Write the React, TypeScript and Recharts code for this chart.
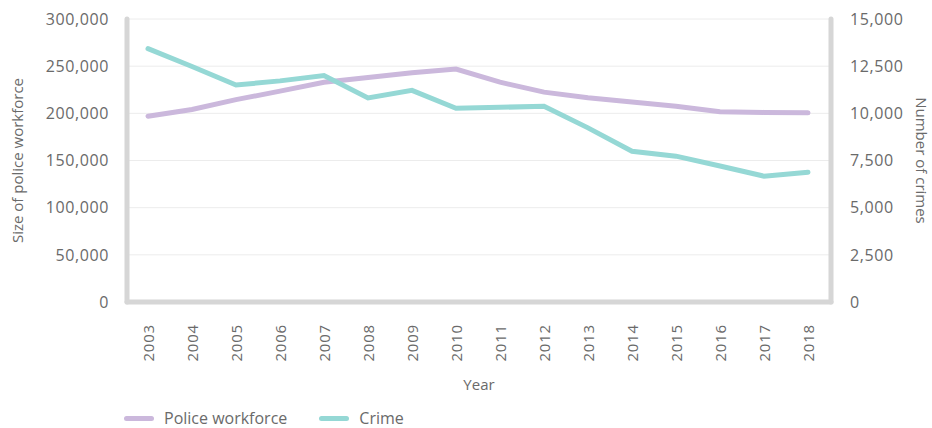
import { CartesianGrid, Legend, Line, LineChart, XAxis, YAxis } from 'recharts'

const years = [
    '2003', '2004', '2005', '2006', '2007', '2008', '2009', '2010',
    '2011', '2012', '2013', '2014', '2015', '2016', '2017', '2018',
]

// size of police workforce (left axis)
const policeWorkforce = [
    197000, 204000, 214500, 223500, 233000, 238000, 243000, 247000,
    233000, 222500, 216500, 212000, 207500, 201800, 201000, 200500,
]

// number of crimes (right axis)
const crime = [
    13430, 12480, 11500, 11720, 12000, 10820, 11220, 10270,
    10320, 10370, 9230, 7990, 7730, 7210, 6670, 6880,
]

const leftTicks = [0, 50000, 100000, 150000, 200000, 250000, 300000]
const rightTicks = [0, 2500, 5000, 7500, 10000, 12500, 15000]

const FONT = '"Open Sans", sans-serif'
const TEXT = '#6a6a6a'
const AXIS = '#d6d6d6'
const PURPLE = '#cbb8dc'
const TEAL = '#95d8d5'

const fmt = (v: number) => v.toLocaleString('en-US')

const chartData = years.map((year, i) => ({
    year,
    police: policeWorkforce[i],
    crime: crime[i],
}))

function YearTick({ x, y, payload }: any) {
    return (
        <text
            x={0}
            y={0}
            transform={`translate(${x + 6}, ${y + 14}) rotate(-90)`}
            textAnchor="end"
            fill={TEXT}
            fontSize={15}
            fontFamily={FONT}
            letterSpacing={0.8}
        >
            {payload.value}
        </text>
    )
}

function LegendContent() {
    const items = [
        { label: 'Police workforce', color: PURPLE },
        { label: 'Crime', color: TEAL },
    ]
    return (
        <div style={{ display: 'flex', alignItems: 'flex-end', height: 36, paddingLeft: 124 }}>
            {items.map(item => (
                <div key={item.label} style={{ display: 'flex', alignItems: 'center', height: 20, marginRight: 32 }}>
                    <span
                        style={{
                            display: 'inline-block',
                            width: 30,
                            height: 5,
                            borderRadius: 3,
                            background: item.color,
                            marginRight: 10,
                        }}
                    />
                    <span style={{ fontFamily: FONT, fontSize: 16, lineHeight: '20px', color: TEXT }}>{item.label}</span>
                </div>
            ))}
        </div>
    )
}

export default function App() {
    return (
        <div style={{ position: 'absolute', left: 0, top: 0, width: 932, height: 428, background: '#fff' }}>
            <LineChart
                width={932}
                height={428}
                data={chartData}
                margin={{ top: 19, right: 0, bottom: 0, left: 0 }}
            >
                <CartesianGrid vertical={false} stroke="#ececec" strokeWidth={1} yAxisId="left" />
                <XAxis
                    dataKey="year"
                    height={90}
                    padding={{ left: 21, right: 23 }}
                    interval={0}
                    stroke={AXIS}
                    strokeWidth={5}
                    strokeLinecap="round"
                    tickLine={false}
                    tick={<YearTick />}
                    label={{
                        value: 'Year',
                        position: 'insideBottom',
                        offset: 2,
                        fill: TEXT,
                        fontSize: 15,
                        fontFamily: FONT,
                    }}
                />
                <YAxis
                    yAxisId="left"
                    width={127}
                    domain={[0, 300000]}
                    ticks={leftTicks}
                    tickFormatter={fmt}
                    stroke={AXIS}
                    strokeWidth={5}
                    strokeLinecap="round"
                    tickLine={false}
                    tickMargin={12}
                    tick={{ fill: TEXT, fontSize: 16, fontFamily: FONT, letterSpacing: 0.6 }}
                    label={{
                        value: 'Size of police workforce',
                        angle: -90,
                        position: 'insideLeft',
                        offset: 18,
                        style: { textAnchor: 'middle' },
                        fill: TEXT,
                        fontSize: 15,
                        fontFamily: FONT,
                    }}
                />
                <YAxis
                    yAxisId="right"
                    orientation="right"
                    width={101}
                    domain={[0, 15000]}
                    ticks={rightTicks}
                    tickFormatter={fmt}
                    stroke={AXIS}
                    strokeWidth={5}
                    strokeLinecap="round"
                    tickLine={false}
                    tickMargin={13}
                    tick={{ fill: TEXT, fontSize: 16, fontFamily: FONT, letterSpacing: 0.6 }}
                    label={{
                        value: 'Number of crimes',
                        angle: 90,
                        position: 'insideRight',
                        offset: 11,
                        style: { textAnchor: 'middle' },
                        fill: TEXT,
                        fontSize: 15,
                        fontFamily: FONT,
                    }}
                />
                <Legend verticalAlign="bottom" align="left" height={36} content={<LegendContent />} />
                <Line
                    yAxisId="left"
                    type="linear"
                    dataKey="police"
                    name="Police workforce"
                    stroke={PURPLE}
                    strokeWidth={5}
                    strokeLinecap="round"
                    dot={false}
                    isAnimationActive={false}
                />
                <Line
                    yAxisId="right"
                    type="linear"
                    dataKey="crime"
                    name="Crime"
                    stroke={TEAL}
                    strokeWidth={5}
                    strokeLinecap="round"
                    dot={false}
                    isAnimationActive={false}
                />
            </LineChart>
        </div>
    )
}
